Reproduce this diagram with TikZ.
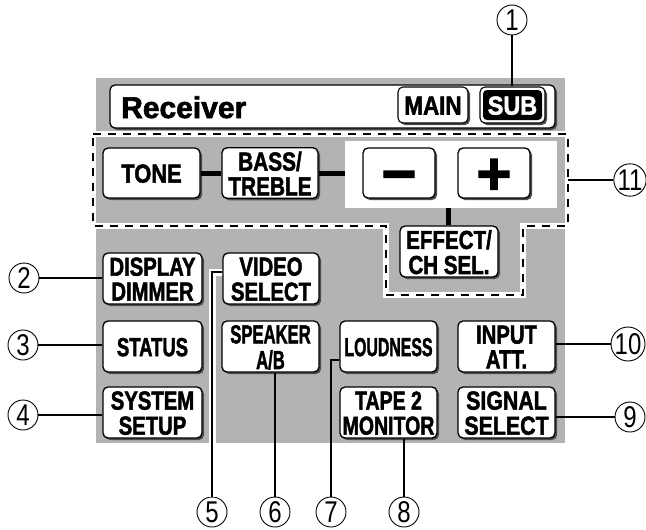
\documentclass[tikz,border=0pt]{standalone}
\usepackage{fontspec}
\setmainfont{Liberation Sans}[BoldFeatures={FakeBold=2}]
\usetikzlibrary{shadows}
\definecolor{panel}{RGB}{179,179,179}
\newcommand\lab[2]{\raisebox{-4pt}[\height][\depth]{\scalebox{#1}[1]{\begin{tabular}{@{}c@{}}#2\end{tabular}}}}
\newcommand\pmglyph[1]{\raisebox{-0.354em}[0pt][0pt]{#1}}
\newcommand\dg[1]{\scalebox{0.8}[1]{#1}}
\begin{document}
\begin{tikzpicture}[x=1pt,y=-1pt,
  btn/.style={draw=black,line width=1.3pt,fill=white,rounded corners=5pt,inner sep=0pt,
    drop shadow={shadow xshift=2pt,shadow yshift=-2pt,fill=black!70,opacity=1},
    font=\bfseries\fontsize{26}{23}\selectfont},
  circ/.style={circle,draw=black,line width=0.9pt,fill=white,minimum size=30pt,inner sep=0pt,
    font=\fontsize{30}{30}\selectfont},
  lead/.style={draw=black,line width=1.1pt},
  halo/.style={draw=white,line width=7pt},
  conn/.style={draw=black,line width=5pt},
  dashband/.style={draw=white,line width=6pt},
  dashline/.style={draw=black,line width=1.5pt,dash pattern=on 8pt off 7pt}]
\useasboundingbox (0,0) rectangle (646,530);
% panel
\fill[panel] (96,78) rectangle (565,443);
\node[fill=white,minimum width=212pt,minimum height=67pt,inner sep=0pt] (wbox) at (451,174.5) {};
% dashed region
\draw[dashband] (93,134) -- (568,134) -- (568,226) -- (523,226) -- (523,295) -- (386,295) -- (386,226) -- (93,226) -- cycle;
\draw[dashline] (93,134) -- (568,134) -- (568,226) -- (523,226) -- (523,295) -- (386,295) -- (386,226) -- (93,226) -- cycle;
\coordinate (dr) at (568,180);
% header
\node[btn,minimum width=445pt,minimum height=43pt] (hdr) at (332.5,106.5) {};
\node[anchor=base west,inner sep=0pt,font=\bfseries\fontsize{30}{30}\selectfont] (recv) at (121,118) {Receiver};
\node[btn,line width=1.1pt,minimum width=70pt,minimum height=36pt] (main) at (433,105) {\lab{0.86}{MAIN}};
\node[btn,line width=1.1pt,minimum width=65pt,minimum height=36pt] (sub) at (512.5,105) {};
\node[fill=black,rounded corners=4pt,minimum width=59pt,minimum height=30pt,inner sep=0pt,
  text=white,font=\bfseries\fontsize{26}{23}\selectfont] (subin) at (sub) {\lab{0.9}{SUB}};
% leader halo
\coordinate (v5) at (223,272);
\node[circ] (c5) at (212,512) {\dg{5}};
\draw[halo] (v5) -| (c5.north);
% buttons
\node[btn,minimum width=97pt,minimum height=50pt] (tone) at (151.5,173) {\lab{0.84}{TONE}};
\node[btn,minimum width=96pt,minimum height=50pt] (bass) at (270,173) {\lab{0.8}{BASS/\\TREBLE}};
\node[btn,minimum width=72pt,minimum height=50pt,font=\bfseries\fontsize{60}{60}\selectfont] (minus) at (399,173) {\pmglyph{−}};
\node[btn,minimum width=72pt,minimum height=50pt,font=\bfseries\fontsize{60}{60}\selectfont] (plus) at (494,173) {\pmglyph{+}};
\node[btn,minimum width=98pt,minimum height=51pt] (effect) at (449,251.5) {\lab{0.79}{EFFECT/\\CH SEL.}};
\node[btn,minimum width=99pt,minimum height=51pt] (disp) at (152.5,278.5) {\lab{0.78}{DISPLAY\\DIMMER}};
\node[btn,minimum width=96pt,minimum height=51pt] (video) at (271,278.5) {\lab{0.78}{VIDEO\\SELECT}};
\node[btn,minimum width=99pt,minimum height=51pt] (status) at (152.5,346.5) {\lab{0.71}{STATUS}};
\node[btn,minimum width=97pt,minimum height=51pt] (speaker) at (270.5,346.5) {\lab{0.64}{SPEAKER\\A/B}};
\node[btn,minimum width=97pt,minimum height=51pt] (loud) at (388.5,346.5) {\lab{0.61}{LOUDNESS}};
\node[btn,minimum width=97pt,minimum height=51pt] (input) at (506.5,346.5) {\lab{0.78}{INPUT\\ATT.}};
\node[btn,minimum width=99pt,minimum height=51pt] (system) at (152.5,412.5) {\lab{0.78}{SYSTEM\\SETUP}};
\node[btn,minimum width=97pt,minimum height=51pt] (tape) at (388.5,412.5) {\lab{0.75}{TAPE 2\\MONITOR}};
\node[btn,minimum width=97pt,minimum height=51pt] (signal) at (506.5,412.5) {\lab{0.82}{SIGNAL\\SELECT}};
% thick connectors
\draw[conn] (tone.east) -- (bass.west);
\draw[conn] (bass.east) -- (bass.east -| wbox.west);
\draw[conn] ([xshift=-1pt]effect.north) -- ([xshift=-1pt]effect.north |- wbox.south);
% callout circles
\node[circ] (c1) at (512,20) {\dg{1}};
\node[circ] (c2) at (24,278) {\dg{2}};
\node[circ] (c3) at (23,345) {\dg{3}};
\node[circ] (c4) at (23,415) {\dg{4}};
\node[circ] (c6) at (275,512) {\dg{6}};
\node[circ] (c7) at (331,512) {\dg{7}};
\node[circ] (c8) at (404,512) {\dg{8}};
\node[circ] (c9) at (630,417) {\dg{9}};
\node[circ] (c10) at (628,344) {\dg{10}};
\node[circ] (c11) at (630,180) {\dg{11}};
% leaders
\draw[lead] (c1.south) -- (c1.south |- sub.north);
\draw[lead] (c2.east) -- (c2.east -| disp.west);
\draw[lead] (c3.east) -- (c3.east -| status.west);
\draw[lead] (c4.east) -- (c4.east -| system.west);
\draw[lead] ([yshift=6.5pt]video.west) -| (c5.north);
\draw[lead] (speaker.south -| c6.north) -- (c6.north);
\draw[lead] ([yshift=-13.5pt]loud.west) -| (c7.north);
\draw[lead] (tape.south -| c8.north) -- (c8.north);
\draw[lead] (c9.west) -- (c9.west -| signal.east);
\draw[lead] (c10.west) -- (c10.west -| input.east);
\draw[lead] (c11.west) -- (dr);
\end{tikzpicture}
\end{document}
